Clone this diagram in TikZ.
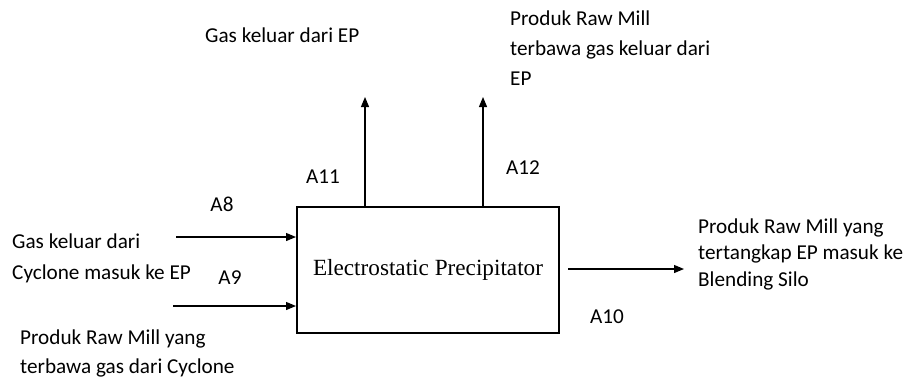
\documentclass[tikz,border=0pt]{standalone}
\usepackage{fontspec}
\setmainfont{Carlito}
\newfontfamily\serifep{Liberation Serif}
\usetikzlibrary{arrows.meta}
\tikzset{
  lbl/.style={inner sep=0pt, font=\fontsize{21.2}{30}\selectfont},
  desc/.style={inner sep=0pt, align=left, anchor=west},
  arr/.style={line width=1.2pt, -{Triangle[length=10pt,width=8pt]}},
  boxst/.style={draw, line width=2pt, minimum width=262pt, minimum height=126pt, inner sep=0pt, font=\serifep\fontsize{23.2}{28}\selectfont}
}
\begin{document}
\begin{tikzpicture}[x=1pt,y=-1pt]
\useasboundingbox (0,0) rectangle (911,380);
\node[boxst] (ep) at (428,270) {\raisebox{6pt}{Electrostatic Precipitator}};
% inputs
\coordinate (a8s) at (176,237);
\coordinate (a9s) at (173,306);
\draw[arr] (a8s) -- (a8s -| ep.west);
\draw[arr] (a9s) -- (a9s -| ep.west);
% outputs up
\coordinate (u1) at (365,97);
\coordinate (u2) at (483,97);
\draw[arr] (ep.north -| u1) -- (u1);
\draw[arr] (ep.north -| u2) -- (u2);
% output right
\coordinate (a10s) at (568,269);
\coordinate (a10e) at (684,269);
\draw[arr] (a10s) -- (a10e);
% labels
\node[lbl] (la8) at (222,204) {A8};
\node[lbl] (la9) at (230,278) {A9};
\node[lbl] (la11) at (323,177) {A11};
\node[lbl] (la12) at (523,168) {A12};
\node[lbl] (la10) at (607,317) {A10};
% descriptions
\node[lbl, desc, font=\fontsize{21.2}{31}\selectfont] (tin1) at (12,258) {Gas keluar dari\\Cyclone masuk ke EP};
\node[lbl, desc, font=\fontsize{21.2}{29}\selectfont] (tin2) at (20,353) {Produk Raw Mill yang\\terbawa gas dari Cyclone};
\node[lbl, desc] (tout1) at (205,35) {Gas keluar dari EP};
\node[lbl, desc, font=\fontsize{21.2}{30}\selectfont] (tout2) at (510,48) {Produk Raw Mill\\terbawa gas keluar dari\\EP};
\node[lbl, desc, font=\fontsize{21.2}{26.5}\selectfont] (tout3) at (698,254) {Produk Raw Mill yang\\tertangkap EP masuk ke\\Blending Silo};
\end{tikzpicture}
\end{document}
